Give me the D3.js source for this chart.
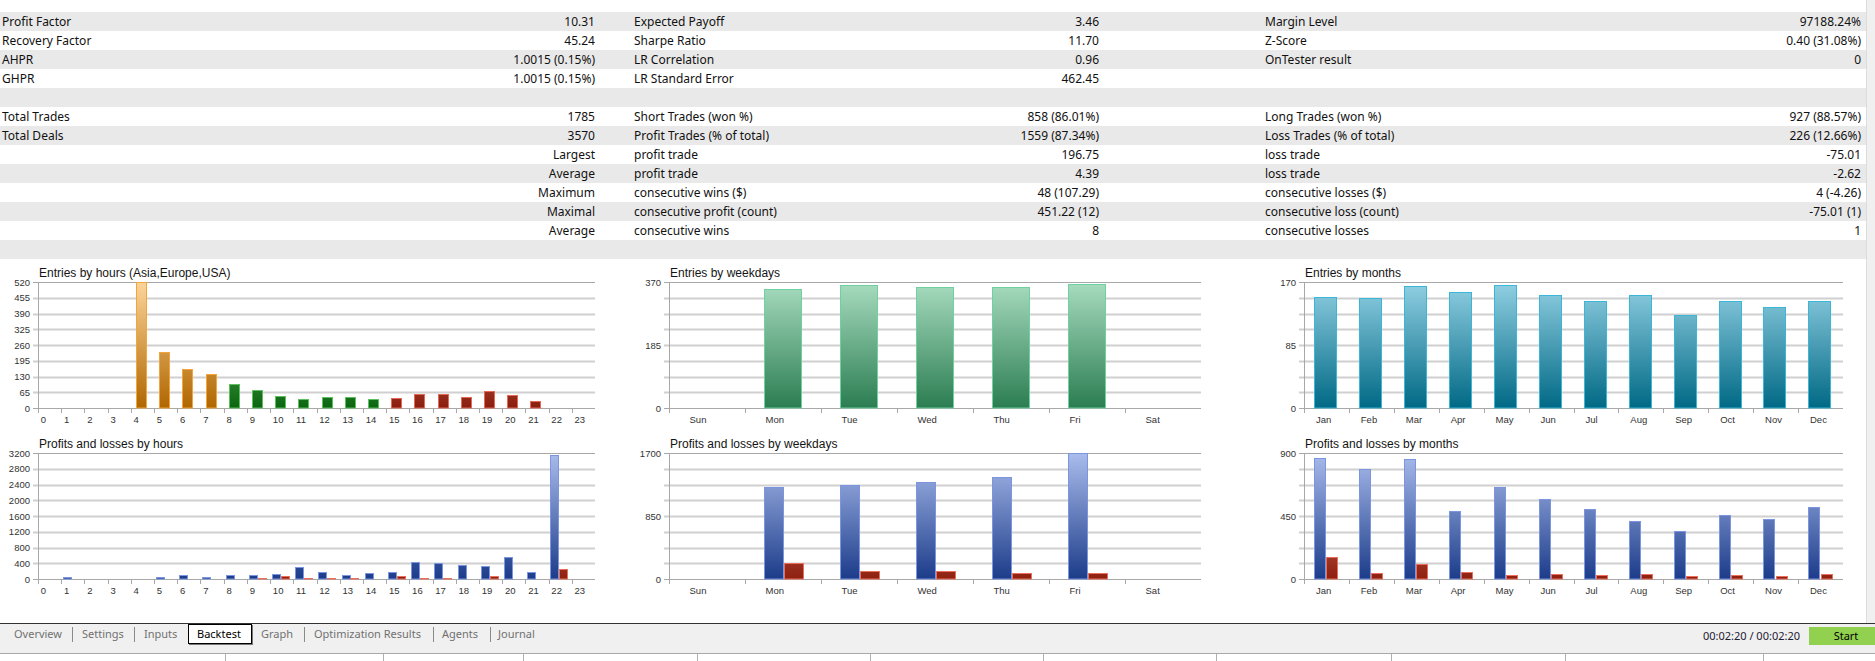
<!DOCTYPE html>
<html>
<head>
<meta charset="utf-8">
<script src="https://cdn.jsdelivr.net/npm/d3@7"></script>
<style>
body { margin: 0; background: #fff; }
svg { display: block; font-family: "Liberation Sans", Arial, sans-serif; }
.tbl text { font-family: "Noto Sans", sans-serif; font-size: 12px; }
.tabs text { font-family: "Noto Sans", sans-serif; font-size: 11px; }
</style>
</head>
<body>
<svg width="1875" height="661"></svg>
<script>
// report table, three column pairs
var tableLabels1 = ["Profit Factor","Recovery Factor","AHPR","GHPR","","Total Trades","Total Deals","","","","","",""];
var tableValues1 = ["10.31","45.24","1.0015 (0.15%)","1.0015 (0.15%)","","1785","3570","Largest","Average","Maximum","Maximal","Average",""];
var tableLabels2 = ["Expected Payoff","Sharpe Ratio","LR Correlation","LR Standard Error","","Short Trades (won %)","Profit Trades (% of total)","profit trade","profit trade","consecutive wins ($)","consecutive profit (count)","consecutive wins",""];
var tableValues2 = ["3.46","11.70","0.96","462.45","","858 (86.01%)","1559 (87.34%)","196.75","4.39","48 (107.29)","451.22 (12)","8",""];
var tableLabels3 = ["Margin Level","Z-Score","OnTester result","","","Long Trades (won %)","Loss Trades (% of total)","loss trade","loss trade","consecutive losses ($)","consecutive loss (count)","consecutive losses",""];
var tableValues3 = ["97188.24%","0.40 (31.08%)","0","","","927 (88.57%)","226 (12.66%)","-75.01","-2.62","4 (-4.26)","-75.01 (1)","1",""];

// charts
var hours = ["0","1","2","3","4","5","6","7","8","9","10","11","12","13","14","15","16","17","18","19","20","21","22","23"];
var hourSessions = ["Asia","Asia","Asia","Asia","Asia","Asia","Asia","Asia",
                    "Europe","Europe","Europe","Europe","Europe","Europe","Europe",
                    "USA","USA","USA","USA","USA","USA","USA","USA","USA"];
var hourEntries = [0,0,0,0,518,233,160,140,101,73,49,37,47,44,36,41,58,58,45,69,52,29,0,0];
var hourEntryTicks = [0,65,130,195,260,325,390,455,520];
var hourProfits = [0,40,8,5,5,42,93,59,101,110,126,303,177,93,152,185,438,404,354,337,556,168,3158,0];
var hourLosses = [0,0,0,8,8,0,0,0,0,15,67,20,28,28,6,67,25,25,12,84,0,8,253,0];
var hourPLTicks = [0,400,800,1200,1600,2000,2400,2800,3200];

var weekdays = ["Sun","Mon","Tue","Wed","Thu","Fri","Sat"];
var weekdayEntries = [0,349,361,356,355,364,0];
var weekdayEntryTicks = [0,185,370];
var weekdayProfits = [0,1244,1266,1302,1378,1696,0];
var weekdayLosses = [0,215,112,103,81,81,0];
var weekdayPLTicks = [0,850,1700];

var months = ["Jan","Feb","Mar","Apr","May","Jun","Jul","Aug","Sep","Oct","Nov","Dec"];
var monthEntries = [150,149,165,156,166,153,144,152,125,145,136,145];
var monthEntryTicks = [0,85,170];
var monthProfits = [867,784,855,486,656,571,500,417,346,455,431,512];
var monthLosses = [156,43,109,52,26,38,28,36,19,28,24,36];
var monthPLTicks = [0,450,900];

var tabNames = ["Overview","Settings","Inputs","Backtest","Graph","Optimization Results","Agents","Journal"];

var svg = d3.select('svg');
var defs = svg.append('defs');

// ---- table ----
var rowH = 19, rowTop = 12;
var tbl = svg.append('g').attr('class','tbl');
tbl.selectAll('rect')
  .data(tableLabels1)
  .enter()
  .append('rect')
  .attr('x', 0)
  .attr('y', function(d,i){ return rowTop + i*rowH; })
  .attr('width', 1866)
  .attr('height', rowH)
  .attr('fill', function(d,i){ return i % 2 == 0 ? '#e9e9e9' : '#fff'; });

function column(list, x, anchor){
  tbl.append('g').selectAll('text')
    .data(list)
    .enter()
    .append('text')
    .attr('x', x)
    .attr('y', function(d,i){ return rowTop + i*rowH + 13.5; })
    .attr('text-anchor', anchor)
    .attr('fill', '#111')
    .text(function(d){ return d; });
}
column(tableLabels1, 2, 'start');
column(tableValues1, 595, 'end');
column(tableLabels2, 634, 'start');
column(tableValues2, 1099, 'end');
column(tableLabels3, 1265, 'start');
column(tableValues3, 1861, 'end');

// ---- gradients ----
function gradient(id, top, bottom, y1, y2){
  var lg = defs.append('linearGradient').attr('id', id)
    .attr('gradientUnits','userSpaceOnUse')
    .attr('x1',0).attr('x2',0).attr('y1',y1).attr('y2',y2);
  lg.append('stop').attr('offset','0%').attr('stop-color',top);
  lg.append('stop').attr('offset','100%').attr('stop-color',bottom);
  return 'url(#' + id + ')';
}

var entryTop = 282, entryZero = 408, plTop = 453, plZero = 579;

var sessionFill = {
  Asia:   gradient('gAsia', '#fcd59a', '#b06600', entryTop, entryZero),
  Europe: gradient('gEur',  '#9be09b', '#0b650f', entryTop, entryZero),
  USA:    gradient('gUsa',  '#f4a090', '#8a1e0e', entryTop, entryZero)
};
var sessionStroke = { Asia: '#f3a43a', Europe: '#5dbf5d', USA: '#e46a55' };

function drawChart(o){
  var g = svg.append('g');
  var x = d3.scaleBand().domain(o.cats).range([o.left, o.right]);
  var y = d3.scaleLinear().domain([0, o.max]).range([o.zero, o.top]);
  var bw = x.bandwidth();
  var grid = d3.range(9).map(function(i){ return o.max * i / 8; });

  g.selectAll('line.grid')
    .data(grid)
    .enter()
    .append('line')
    .attr('x1', o.left - 5).attr('x2', o.right)
    .attr('y1', function(d){ return Math.round(y(d)) + 0.5; })
    .attr('y2', function(d){ return Math.round(y(d)) + 0.5; })
    .attr('stroke', function(d,i){ return (i == 0 || i == 8) ? '#a8a8a8' : '#d0d0d0'; })
    .attr('stroke-width', function(d,i){ return (i == 0 || i == 8) ? 1 : 2; });

  g.append('line')
    .attr('x1', o.left + 0.5).attr('x2', o.left + 0.5)
    .attr('y1', o.top).attr('y2', o.zero + 5)
    .attr('stroke', '#a8a8a8');

  g.append('text')
    .attr('x', o.left + 1).attr('y', o.top - 5)
    .attr('font-size', 12).attr('fill', '#141414')
    .text(o.title);

  var ya = g.append('g')
    .attr('transform', 'translate(' + (o.left - 7) + ',0)')
    .call(d3.axisLeft(y).tickValues(o.ticks).tickSize(0).tickPadding(1).tickFormat(d3.format('d')));
  ya.select('.domain').remove();
  ya.selectAll('text').attr('font-size', 9.5).attr('fill', '#333')
    .attr('font-family', '"Liberation Sans", Arial, sans-serif');

  g.selectAll('line.xt')
    .data(o.cats)
    .enter()
    .append('line')
    .attr('x1', function(d){ return Math.round(x(d)) + 0.5; })
    .attr('x2', function(d){ return Math.round(x(d)) + 0.5; })
    .attr('y1', o.zero).attr('y2', o.zero + 5)
    .attr('stroke', '#a8a8a8');

  g.selectAll('text.xl')
    .data(o.cats)
    .enter()
    .append('text')
    .attr('x', function(d){ return x(d) + o.labelOff * bw; })
    .attr('y', o.zero + 15)
    .attr('font-size', 9.5).attr('fill', '#333')
    .text(function(d){ return d; });

  o.series.forEach(function(s){
    var rows = o.cats.map(function(c,i){ return { c: c, v: s.values[i], i: i }; })
      .filter(function(d){ return d.v > 0; });
    g.append('g').selectAll('rect')
      .data(rows)
      .enter()
      .append('rect')
      .attr('x', function(d){ return Math.round(x(d.c) + s.start * bw) + 0.5; })
      .attr('width', Math.round(s.width * bw) - 1)
      .attr('y', function(d){ return Math.round(y(d.v)) + 0.5; })
      .attr('height', function(d){ return Math.max(0, o.zero - Math.round(y(d.v)) - 0.5); })
      .attr('fill', function(d){ return typeof s.fill == 'function' ? s.fill(d) : s.fill; })
      .attr('stroke', function(d){ return typeof s.stroke == 'function' ? s.stroke(d) : s.stroke; });
  });
}

var blueE = gradient('gBlueE', '#aabcec', '#1c3c8a', plTop, plZero);
var redE  = gradient('gRedE',  '#f0a090', '#8e2010', plTop, plZero);
var blueStroke = '#7b95e0', redStroke = '#e8705c';

drawChart({
  title: 'Entries by hours (Asia,Europe,USA)', cats: hours, left: 38, right: 595,
  top: entryTop, zero: entryZero, max: 520, ticks: hourEntryTicks, labelOff: 0.12,
  series: [{ values: hourEntries, start: 0.22, width: 0.47,
    fill: function(d){ return sessionFill[hourSessions[d.i]]; },
    stroke: function(d){ return sessionStroke[hourSessions[d.i]]; } }]
});
drawChart({
  title: 'Profits and losses by hours', cats: hours, left: 38, right: 595,
  top: plTop, zero: plZero, max: 3200, ticks: hourPLTicks, labelOff: 0.12,
  series: [
    { values: hourProfits, start: 0.08, width: 0.37, fill: blueE, stroke: blueStroke },
    { values: hourLosses,  start: 0.46, width: 0.37, fill: redE,  stroke: redStroke }
  ]
});
drawChart({
  title: 'Entries by weekdays', cats: weekdays, left: 669, right: 1201,
  top: entryTop, zero: entryZero, max: 370, ticks: weekdayEntryTicks, labelOff: 0.27,
  series: [{ values: weekdayEntries, start: 0.25, width: 0.5,
    fill: gradient('gWeek', '#a8dcc0', '#2b7d51', entryTop, entryZero), stroke: '#6fd0a0' }]
});
drawChart({
  title: 'Profits and losses by weekdays', cats: weekdays, left: 669, right: 1201,
  top: plTop, zero: plZero, max: 1700, ticks: weekdayPLTicks, labelOff: 0.27,
  series: [
    { values: weekdayProfits, start: 0.25, width: 0.26, fill: blueE, stroke: blueStroke },
    { values: weekdayLosses,  start: 0.51, width: 0.26, fill: redE,  stroke: redStroke }
  ]
});
drawChart({
  title: 'Entries by months', cats: months, left: 1304, right: 1843,
  top: entryTop, zero: entryZero, max: 170, ticks: monthEntryTicks, labelOff: 0.265,
  series: [{ values: monthEntries, start: 0.23, width: 0.51,
    fill: gradient('gMonth', '#92d0e3', '#006985', entryTop, entryZero), stroke: '#3cb6d6' }]
});
drawChart({
  title: 'Profits and losses by months', cats: months, left: 1304, right: 1843,
  top: plTop, zero: plZero, max: 900, ticks: monthPLTicks, labelOff: 0.265,
  series: [
    { values: monthProfits, start: 0.23, width: 0.27, fill: blueE, stroke: blueStroke },
    { values: monthLosses,  start: 0.50, width: 0.27, fill: redE,  stroke: redStroke }
  ]
});

// right scroll strip
svg.append('rect').attr('x', 1867).attr('y', 0).attr('width', 8).attr('height', 623).attr('fill', '#f0f0f0');
svg.append('line').attr('x1', 1866.5).attr('x2', 1866.5).attr('y1', 0).attr('y2', 623).attr('stroke', '#dcdcdc');

// ---- tab bar ----
var tabs = svg.append('g').attr('class','tabs');
tabs.append('rect').attr('x', 0).attr('y', 624).attr('width', 1875).attr('height', 29).attr('fill', '#f0f0f0');
tabs.append('line').attr('x1', 0).attr('x2', 1875).attr('y1', 623.5).attr('y2', 623.5).attr('stroke', '#333');
tabs.append('line').attr('x1', 0).attr('x2', 1875).attr('y1', 653.5).attr('y2', 653.5).attr('stroke', '#a8a8a8');
var colLines = [225, 383, 523, 697, 870, 1043, 1216, 1391, 1565, 1763];
tabs.selectAll('line.col').data(colLines).enter().append('line')
  .attr('x1', function(d){ return d + 0.5; }).attr('x2', function(d){ return d + 0.5; })
  .attr('y1', 654).attr('y2', 661).attr('stroke', '#b0b0b0');

var tabX = [14, 82, 144, 197, 261, 314, 442, 498];
var sepX = [72, 134, 304, 433, 490];
tabs.append('rect').attr('x', 188.5).attr('y', 624.5).attr('width', 63).attr('height', 19)
  .attr('fill', '#fff').attr('stroke', '#000');
tabs.append('line').attr('x1', 189).attr('x2', 253).attr('y1', 644.5).attr('y2', 644.5).attr('stroke', '#777');
tabs.append('line').attr('x1', 252.5).attr('x2', 252.5).attr('y1', 625).attr('y2', 645).attr('stroke', '#777');
tabs.selectAll('text.tab').data(tabNames).enter().append('text')
  .attr('x', function(d,i){ return tabX[i]; })
  .attr('y', 638)
  .attr('fill', function(d){ return d == 'Backtest' ? '#000' : '#707070'; })
  .text(function(d){ return d; });
tabs.selectAll('line.sep').data(sepX).enter().append('line')
  .attr('x1', function(d){ return d + 0.5; }).attr('x2', function(d){ return d + 0.5; })
  .attr('y1', 627).attr('y2', 642).attr('stroke', '#8a8a8a');

tabs.append('text').attr('x', 1800).attr('y', 640).attr('text-anchor', 'end').attr('fill', '#1c2030')
  .attr('font-size', 11.5).text('00:02:20 / 00:02:20');
tabs.append('rect').attr('x', 1809).attr('y', 627).attr('width', 66).attr('height', 18).attr('fill', '#92d050');
tabs.append('text').attr('x', 1846).attr('y', 640).attr('text-anchor', 'middle').attr('fill', '#000')
  .attr('font-size', 12).text('Start');
</script>
</body>
</html>
